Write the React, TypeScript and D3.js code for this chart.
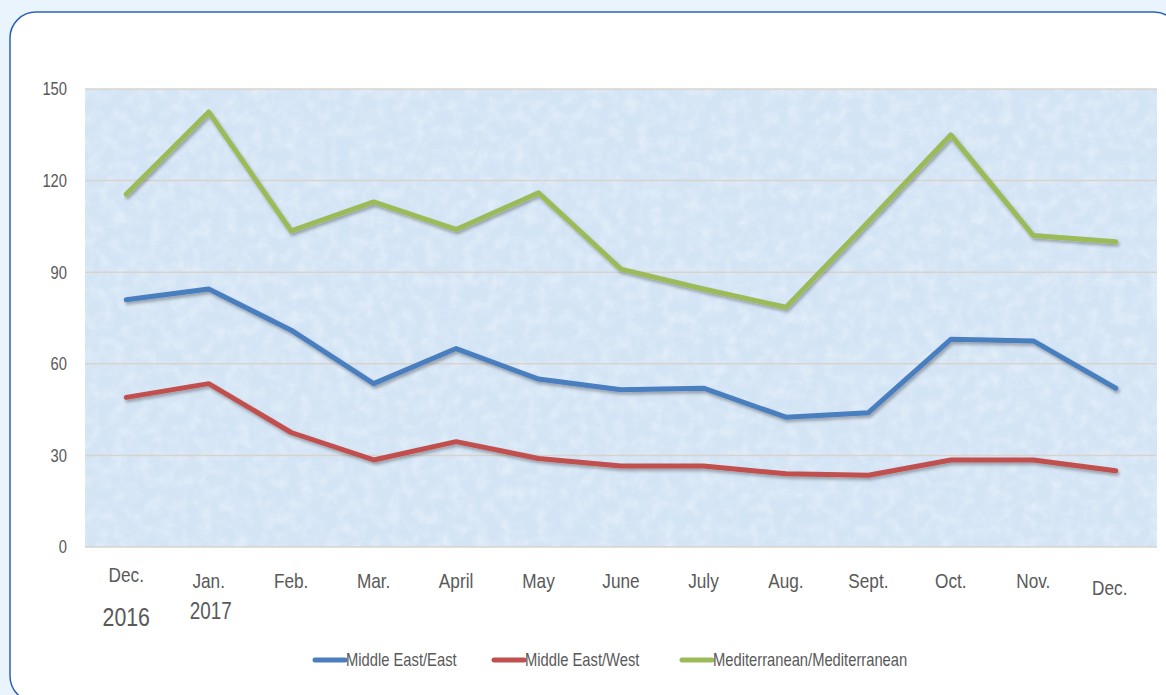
import React from "react";
import * as d3 from "d3";

const W = 1166;
const H = 695;
const margin = { left: 85, right: 9, top: 89, bottom: 148 };
const font = "'Liberation Sans', Arial, sans-serif";
const squeeze = 0.82; // narrow the glyphs, the original used a condensed face

// months along the x axis (Dec 2016 .. Dec 2017)
const months = ["Dec.", "Jan.", "Feb.", "Mar.", "April", "May", "June", "July", "Aug.", "Sept.", "Oct.", "Nov.", "Dec."];
const years = ["2016", "2017"];
const yTicks = [0, 30, 60, 90, 120, 150];

const middleEastEast = [81, 84.5, 71, 53.5, 65, 55, 51.5, 52, 42.5, 44, 68, 67.5, 52];
const middleEastWest = [49, 53.5, 37.5, 28.5, 34.5, 29, 26.5, 26.5, 24, 23.5, 28.5, 28.5, 25];
const mediterranean = [115.5, 142.5, 103.5, 113, 104, 116, 91, 84.5, 78.5, 106.5, 135, 102, 100];

const seriesNames = ["Middle East/East", "Middle East/West", "Mediterranean/Mediterranean"];
const seriesColors = ["#4a7ebf", "#c0504d", "#9bbb59"];

const x = d3
  .scalePoint<number>()
  .domain(d3.range(months.length))
  .range([margin.left, W - margin.right])
  .padding(0.5);

const y = d3.scaleLinear().domain([0, 150]).range([H - margin.bottom, margin.top]);

const line = d3
  .line<number>()
  .x((_, i) => x(i) as number)
  .y((d) => y(d));

const Label = ({ x, y, size, anchor = "middle", dy = "0", children }) => (
  <text
    transform={`translate(${x},${y}) scale(${squeeze},1)`}
    dy={dy}
    textAnchor={anchor}
    fontFamily={font}
    fontSize={size}
    fill="#595959"
  >
    {children}
  </text>
);

export default function App() {
  const series = [middleEastEast, middleEastWest, mediterranean];
  const legendX = [313, 492, 680];

  return (
    <svg
      width={W}
      height={H}
      style={{ position: "absolute", left: 0, top: 0, display: "block" }}
    >
      <defs>
        <filter id="grain" x="0" y="0" width="100%" height="100%">
          <feTurbulence type="fractalNoise" baseFrequency="0.08" numOctaves={3} seed={7} />
          <feColorMatrix
            type="matrix"
            values="0 0 0 0 1  0 0 0 0 1  0 0 0 0 1  0 0 0 1.6 -0.6"
          />
        </filter>
        <filter id="shadow" x="-5%" y="-20%" width="110%" height="140%">
          <feDropShadow dx="1.5" dy="2.5" stdDeviation="1.6" floodColor="#000" floodOpacity="0.3" />
        </filter>
      </defs>

      <rect width={W} height={H} fill="#eaf4fc" />
      <rect x={10} y={12} width={1170} height={690} rx={26} fill="#fff" stroke="#2e63b0" strokeWidth={1.5} />

      {/* plot area */}
      <rect
        x={margin.left}
        y={margin.top}
        width={W - margin.left - margin.right}
        height={H - margin.top - margin.bottom}
        fill="#d3e4f5"
      />
      <rect
        x={margin.left}
        y={margin.top}
        width={W - margin.left - margin.right}
        height={H - margin.top - margin.bottom}
        fill="#fff"
        filter="url(#grain)"
        opacity={0.4}
      />

      {yTicks.map((t) => (
        <g key={t}>
          <line
            x1={margin.left}
            x2={W - margin.right}
            y1={y(t)}
            y2={y(t)}
            stroke="#d9d3cd"
            strokeWidth={1.5}
          />
          <Label x={67} y={y(t)} dy="0.35em" anchor="end" size={18}>
            {t}
          </Label>
        </g>
      ))}

      {months.map((m, i) => {
        const last = i === months.length - 1;
        const base = i === 0 ? 582 : last ? 595 : 588;
        return (
          <Label key={i} x={(x(i) as number) + (last ? -6 : 0)} y={base} size={21}>
            {m}
          </Label>
        );
      })}
      {years.map((yr, i) => (
        <Label
          key={yr}
          x={(x(i) as number) + (i === 1 ? 2 : 0)}
          y={i === 0 ? 626 : 619}
          size={i === 0 ? 26 : 23}
        >
          {yr}
        </Label>
      ))}

      {series.map((s, k) => (
        <path
          key={k}
          d={line(s) ?? ""}
          fill="none"
          stroke={seriesColors[k]}
          strokeWidth={5}
          strokeLinejoin="round"
          strokeLinecap="round"
          filter="url(#shadow)"
        />
      ))}

      {seriesNames.map((n, k) => (
        <g key={n} transform={`translate(${legendX[k]}, 660)`}>
          <line x1={2} x2={32} y1={0} y2={0} stroke={seriesColors[k]} strokeWidth={5} strokeLinecap="round" />
          <Label x={33} y={0} dy="0.35em" anchor="start" size={18}>
            {n}
          </Label>
        </g>
      ))}
    </svg>
  );
}
